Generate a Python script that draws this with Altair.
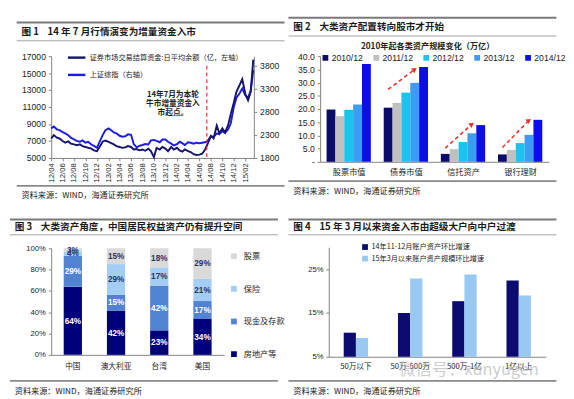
import json
import altair as alt
import pandas as pd

CJK = "Noto Sans CJK SC"
NUM = "Liberation Sans"
AX = "#808080"
TXT = "#1a1a1a"
PW = 279
SOURCE = "资料来源：WIND，海通证券研究所"
SP = "\u00a0"

titles = [
    f"图{SP}1{SP*4}14{SP}年{SP}7{SP}月行情演变为增量资金入市",
    f"图{SP}2{SP*4}大类资产配置转向股市才开始",
    f"图{SP}3{SP*4}大类资产角度，中国居民权益资产仍有提升空间",
    f"图{SP}4{SP*4}15{SP}年{SP}3{SP}月以来资金入市由超级大户向中户过渡",
]

# ---------------- Panel 1 data (semi-monthly, 2012/04 - 2015/03)
p1_fund = [7300, 7700, 7400, 7300, 7000, 6800, 6950, 6700, 6600, 6500, 6600, 6400,
           6300, 6200, 6100, 5900, 5800, 6300, 6950, 7050, 6900, 6750, 6600, 6400,
           6300, 6200, 6250, 6400, 6300, 6000, 6050, 5900, 6000, 5850, 6100, 5800,
           5100, 6200, 6000, 6300, 6100, 5800, 6300, 6000, 6200, 5900, 5750, 6000,
           5800, 5700, 5450, 5350, 5400, 5500, 6000, 6700, 7600, 7300, 8800, 7900,
           8500, 8000, 8900, 10200, 11500, 12800, 13600, 14300, 12500, 11800, 12800, 16600]
p1_index = [2440, 2480, 2420, 2400, 2360, 2330, 2290, 2240, 2200, 2170, 2150, 2180,
            2130, 2150, 2090, 2060, 2020, 2150, 2300, 2400, 2440, 2400, 2350, 2330,
            2280, 2260, 2270, 2310, 2300, 2100, 2030, 2060, 2080, 2100, 2090, 2180,
            2190, 2170, 2140, 2200, 2200, 2150, 2110, 2070, 2100, 2150, 2120, 2080,
            2140, 2130, 2110, 2130, 2120, 2130, 2140, 2170, 2270, 2250, 2330, 2320,
            2380, 2340, 2420, 2550, 2900, 3100, 3200, 3300, 3150, 3100, 3250, 3700]
p1_dates = list(pd.date_range("2012-04-01", periods=len(p1_fund), freq="SMS").strftime("%Y/%m/%d"))
p1_names = ["证券市场交易结算资金:日平均余额（亿，左轴）", "上证综指（右轴）"]
p1_left_ticks = [5000, 7000, 9000, 11000, 13000, 15000, 17000]
p1_right_ticks = [1800, 2300, 2800, 3300, 3800]
p1_start_date = "2014/07/10"
p1_note = "14年7月为本轮\n牛市增量资金入\n市起点。"
p1_note_date = "2014/01/10"

# ---------------- Panel 2 data
p2_groups = ["股票市值", "债券市值", "信托资产", "银行理财"]
p2_years = ["2010/12", "2011/12", "2012/12", "2013/12", "2014/12"]
p2_2010 = [19.8, 20.5, 3.0, 2.8]
p2_2011 = [17.3, 22.3, 4.8, 4.5]
p2_2012 = [19.7, 26.2, 7.5, 7.1]
p2_2013 = [21.7, 29.9, 10.8, 10.2]
p2_2014 = [37.0, 35.9, 13.9, 15.9]
p2_subtitle = "2010年起各类资产规模变化（万亿）"
arrow_groups = [1, 2, 3]
arrow_from = [27.4, 5.2, 5.4]
arrow_to = [35.0, 14.2, 15.7]

# ---------------- Panel 3 data
p3_countries = ["中国", "澳大利亚", "台湾", "美国"]
p3_cats = ["房地产等", "现金及存款", "保险", "股票"]
p3_realestate = [64, 42, 23, 34]
p3_cash = [29, 15, 42, 17]
p3_insurance = [4, 29, 17, 21]
p3_stock = [3, 15, 18, 29]

# ---------------- Panel 4 data
p4_groups = ["50万以下", "50万-500万", "500万-1亿", "1亿以上"]
p4_names = ["14年11-12月账户资产环比增速", "15年3月以来账户资产规模环比增速"]
p4_s1 = [10.5, 15.0, 17.7, 22.4]
p4_s2 = [9.3, 22.9, 23.8, 19.0]
watermark = "微信号：xunyugen"

one = pd.DataFrame({"k": [0]})


def hline(x1, x2, y, color, w):
    return alt.Chart(one).mark_rule(color=color, strokeWidth=w).encode(
        x=alt.value(x1), x2=alt.value(x2), y=alt.value(y))


def label(txt, x, y, size, bold=False, align="left", color=TXT, font=CJK, opacity=1):
    return alt.Chart(pd.DataFrame({"t": [txt]})).mark_text(
        align=align, baseline="middle", fontSize=size,
        fontWeight="bold" if bold else "normal", font=font, color=color, opacity=opacity
    ).encode(x=alt.value(x), y=alt.value(y), text="t:N")


def frame(title, ox, oy, rel):
    top, ty, tr, br, sy = rel
    return [
        hline(-ox, PW - ox, top - oy, "#7a7a7a", 2.2),
        hline(-ox, PW - ox, tr - oy, "#a0a0a0", 1),
        hline(-ox, PW - ox, br - oy, "#8a8a8a", 1.8),
        label(title, 5 - ox, ty - oy, 10, bold=True),
        label(SOURCE, 5 - ox, sy - oy, 8.5, color="#222222"),
    ]


REL_TOP = (0, 10, 19, 170, 180)
REL_BOT = (0, 8, 16, 168, 179)

# ================= Panel 1
ox1, oy1, W1, H1 = 36, 35, 211, 106
tick_dates = []
y, m = 2012, 4
while (y, m) <= (2015, 2):
    tick_dates.append(alt.DateTime(year=y, month=m, date=1))
    m += 2
    if m > 12:
        m -= 12
        y += 1

xenc1 = alt.X("date:T", title=None,
              scale=alt.Scale(domain=[alt.DateTime(year=2012, month=4, date=1),
                                      alt.DateTime(year=2015, month=3, date=18)]),
              axis=alt.Axis(values=tick_dates, format="%y/%m", labelAngle=270,
                            labelFontSize=8, labelFont=NUM, tickSize=3,
                            labelPadding=2, grid=False))
color1 = alt.Color("s:N", scale=alt.Scale(domain=p1_names, range=["#15156b", "#1c1ce0"]),
                   legend=alt.Legend(orient="none", legendX=16, legendY=-9, title=None,
                                     symbolType="stroke", symbolStrokeWidth=2.5,
                                     symbolSize=330, labelFont=CJK, labelFontSize=7.5,
                                     labelColor="#222", rowPadding=2, labelOffset=3,
                                     padding=0))
df_l = pd.DataFrame({"date": p1_dates, "v": p1_fund, "s": p1_names[0]})
df_r = pd.DataFrame({"date": p1_dates, "v": p1_index, "s": p1_names[1]})
line_r = alt.Chart(df_r).mark_line(strokeWidth=2).encode(
    x=xenc1,
    y=alt.Y("v:Q", title=None, scale=alt.Scale(domain=[1800, 4000], nice=False, zero=False),
            axis=alt.Axis(orient="right", values=p1_right_ticks, format="d", labelFontSize=9,
                          labelFont=NUM, tickSize=3, grid=False, labelPadding=3)),
    color=color1)
line_l = alt.Chart(df_l).mark_line(strokeWidth=2).encode(
    x=xenc1,
    y=alt.Y("v:Q", title=None, scale=alt.Scale(domain=[5000, 17000], nice=False, zero=False),
            axis=alt.Axis(orient="left", values=p1_left_ticks, format="d", labelFontSize=9,
                          labelFont=NUM, tickSize=3, grid=False, labelPadding=3)),
    color=color1)
red = alt.Chart(pd.DataFrame({"date": [p1_start_date]})).mark_rule(
    color="#e03030", strokeDash=[4, 3], strokeWidth=1.2).encode(
    x=xenc1, y=alt.value(10), y2=alt.value(H1))
note = alt.Chart(pd.DataFrame({"date": [p1_note_date], "t": [p1_note]})).mark_text(
    lineBreak="\n", fontSize=8, fontWeight="bold", font=CJK, align="center",
    baseline="top", lineHeight=9.5, color="#222").encode(
    x=xenc1, y=alt.value(36), text="t:N")

p1 = alt.layer(*frame(titles[0], ox1, oy1, REL_TOP), line_r, line_l, red, note).resolve_scale(
    y="independent").properties(width=W1, height=H1)

# ================= Panel 2
ox2, oy2, W2, H2 = 33, 40, 238, 110
BW = 0.155
rows = []
for s, (yr, vals) in enumerate(zip(p2_years, [p2_2010, p2_2011, p2_2012, p2_2013, p2_2014])):
    for g, v in enumerate(vals):
        rows.append({"g": g, "s": s, "year": yr, "v": v})
df2 = pd.DataFrame(rows)
lab2 = json.dumps(p2_groups, ensure_ascii=False)
xscale2 = alt.Scale(domain=[-0.5, 3.5], nice=False, zero=False)
xaxis2 = alt.Axis(values=[0, 1, 2, 3], labelExpr=f"{lab2}[datum.value]", ticks=False,
                  grid=False, labelFont=CJK, labelFontSize=8.5, labelPadding=6,
                  labelColor="#222")
yscale2 = alt.Scale(domain=[0, 40], nice=False)
yaxis2 = alt.Axis(values=[0, 5, 10, 15, 20, 25, 30, 35, 40],
                  labelExpr="datum.value == 0 ? '-' : format(datum.value, '.1f')",
                  labelFont=NUM, labelFontSize=9, tickSize=3, grid=False, labelPadding=3)
bars2 = alt.Chart(df2).transform_calculate(
    x0=f"datum.g + (datum.s - 2) * {BW} - {BW / 2}",
    x1=f"datum.g + (datum.s - 2) * {BW} + {BW / 2}",
).mark_bar().encode(
    x=alt.X("x0:Q", title=None, scale=xscale2, axis=xaxis2),
    x2="x1:Q",
    y=alt.Y("v:Q", title=None, scale=yscale2, axis=yaxis2),
    y2=alt.datum(0),
    color=alt.Color("year:N", scale=alt.Scale(domain=p2_years,
                    range=["#0b0b6b", "#c0c0c0", "#1cc3ef", "#3d9bf3", "#0d0de6"]),
                    legend=alt.Legend(orient="none", legendX=1, legendY=-3,
                                      direction="horizontal", title=None,
                                      symbolType="square", symbolSize=36,
                                      symbolStrokeWidth=0, labelFont=NUM,
                                      labelFontSize=9, labelColor="#222",
                                      columnPadding=9, labelOffset=2, padding=0)),
)
df_arr = pd.DataFrame({"g": arrow_groups, "ya": arrow_from, "yb": arrow_to})
arr_line = alt.Chart(df_arr).transform_calculate(
    xa=f"datum.g - 2 * {BW}", xb=f"datum.g + 1 * {BW}").mark_rule(
    color="#e8312a", strokeDash=[4, 3], strokeWidth=1.6).encode(
    x=alt.X("xa:Q", title=None, scale=xscale2, axis=xaxis2), x2="xb:Q",
    y=alt.Y("ya:Q", title=None, scale=yscale2, axis=yaxis2), y2="yb:Q")
arr_head = alt.Chart(df_arr).transform_calculate(
    xb=f"datum.g + 1 * {BW}").mark_point(
    shape="triangle-up", filled=True, color="#e8312a", size=35, angle=54, opacity=1).encode(
    x=alt.X("xb:Q", title=None, scale=xscale2, axis=xaxis2),
    y=alt.Y("yb:Q", title=None, scale=yscale2, axis=yaxis2))
sub2 = label(p2_subtitle, 112, -10, 8.5, bold=True, align="center", color="#222")

p2 = alt.layer(*frame(titles[1], ox2, oy2, REL_TOP), sub2, bars2, arr_line, arr_head).properties(
    width=W2, height=H2)

# ================= Panel 3
ox3, oy3, W3, H3 = 43, 30, 180, 111
rows = []
for i, c in enumerate(p3_countries):
    vals = [p3_realestate[i], p3_cash[i], p3_insurance[i], p3_stock[i]]
    tot = float(sum(vals))
    cum = 0
    for j, cat in enumerate(p3_cats):
        y0 = cum / tot
        cum += vals[j]
        y1 = cum / tot
        rows.append({"country": c, "cat": cat, "y0": y0, "y1": y1, "mid": (y0 + y1) / 2,
                     "label": f"{vals[j]}%", "dark": j < 2})
df3 = pd.DataFrame(rows)
x3 = alt.X("country:N", title=None, sort=p3_countries,
           axis=alt.Axis(labelAngle=0, ticks=False, labelFont=CJK, labelFontSize=8,
                         labelPadding=8, labelColor="#222"))
yscale3 = alt.Scale(domain=[0, 1], nice=False)
yaxis3 = alt.Axis(values=[0, 0.2, 0.4, 0.6, 0.8, 1.0], format=".0%", labelFont=NUM,
                  labelFontSize=8, tickSize=3, grid=False, labelPadding=3)
legend_order = ["股票", "保险", "现金及存款", "房地产等"]
bars3 = alt.Chart(df3).mark_bar(size=19).encode(
    x=x3,
    y=alt.Y("y0:Q", title=None, scale=yscale3, axis=yaxis3),
    y2="y1:Q",
    color=alt.Color("cat:N", scale=alt.Scale(domain=legend_order,
                    range=["#d9d9d9", "#a4cdf4", "#5283d3", "#00007a"]),
                    legend=alt.Legend(orient="none", legendX=186, legendY=4, title=None,
                                      symbolType="square", symbolSize=36,
                                      symbolStrokeWidth=0, labelFont=CJK,
                                      labelFontSize=8.5, labelColor="#222",
                                      rowPadding=25, labelOffset=6, padding=0)),
)
txt3_dark = alt.Chart(df3).transform_filter("datum.dark").mark_text(
    color="white", fontSize=8.5, fontWeight="bold", font=NUM).encode(
    x=x3, y=alt.Y("mid:Q", title=None, scale=yscale3, axis=yaxis3), text="label:N")
txt3_light = alt.Chart(df3).transform_filter("!datum.dark").mark_text(
    color="#2a3560", fontSize=8.5, fontWeight="bold", font=NUM).encode(
    x=x3, y=alt.Y("mid:Q", title=None, scale=yscale3, axis=yaxis3), text="label:N")

p3 = alt.layer(*frame(titles[2], ox3, oy3, REL_BOT), bars3, txt3_dark, txt3_light).properties(
    width=W3, height=H3)

# ================= Panel 4
ox4, oy4, W4, H4 = 42, 29, 226, 114
rows = []
for name, vals in zip(p4_names, [p4_s1, p4_s2]):
    for g, v in zip(p4_groups, vals):
        rows.append({"g": g, "s": name, "v": v})
df4 = pd.DataFrame(rows)
bars4 = alt.Chart(df4).mark_bar().encode(
    x=alt.X("g:N", title=None, sort=p4_groups,
            scale=alt.Scale(domain=p4_groups, paddingInner=0.55, paddingOuter=0.275),
            axis=alt.Axis(labelAngle=0, ticks=False, labelFont=CJK, labelFontSize=8,
                          labelPadding=6, labelColor="#222")),
    xOffset=alt.XOffset("s:N", sort=p4_names,
                        scale=alt.Scale(domain=p4_names, paddingInner=0, paddingOuter=0)),
    y=alt.Y("v:Q", title=None, scale=alt.Scale(domain=[5, 30], nice=False, zero=False),
            axis=alt.Axis(values=[5, 15, 25], labelExpr="datum.value + '%'",
                          labelFont=NUM, labelFontSize=8, tickSize=3, grid=False,
                          labelPadding=3)),
    y2=alt.datum(5),
    color=alt.Color("s:N", scale=alt.Scale(domain=p4_names, range=["#0c0c70", "#99c8f2"]),
                    legend=alt.Legend(orient="none", legendX=34, legendY=-4, title=None,
                                      symbolType="square", symbolSize=36,
                                      symbolStrokeWidth=0, labelFont=CJK,
                                      labelFontSize=7.5, labelColor="#222",
                                      rowPadding=3, labelOffset=3, padding=0)),
)
wm = label(watermark, 146, 128, 17, align="center", color="#b8b8b8", opacity=0.7)

p4 = alt.layer(*frame(titles[3], ox4, oy4, REL_BOT), bars4, wm).properties(width=W4, height=H4)

chart = alt.concat(p1, p2, p3, p4, columns=2, align="none",
                   spacing={"row": 18, "column": 0}).resolve_scale(
    color="independent").resolve_legend(color="independent").properties(
    padding={"left": 0, "top": 0, "right": 0, "bottom": 0}, background="white"
).configure_view(stroke=None).configure_axis(
    domainColor=AX, tickColor=AX, labelColor="#222", grid=False)

chart.save("out.html", embed_options={"renderer": "svg", "actions": False})
